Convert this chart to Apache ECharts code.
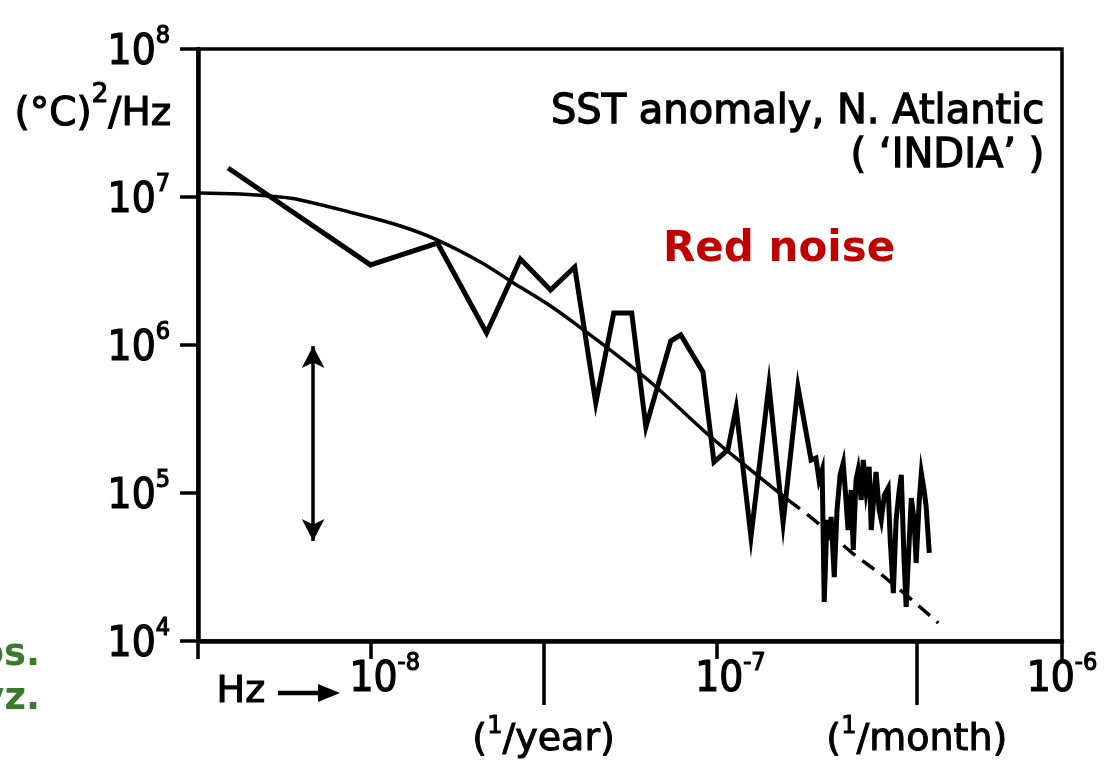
<!DOCTYPE html>
<html>
<head>
<meta charset="utf-8">
<script src="https://cdn.jsdelivr.net/npm/echarts@6/dist/echarts.min.js"></script>
<style>
  html, body { margin: 0; padding: 0; background: #fff; }
  #chart { width: 1108px; height: 764px; }
</style>
</head>
<body>
<div id="chart"></div>
<script>
// Frequencies are log10(Hz); spectral densities are log10((°C)^2/Hz).

// Observed SST anomaly spectrum, N. Atlantic ('INDIA')
const spectrumLogF = [-8.413, -8.001, -7.807, -7.665, -7.567, -7.480, -7.410, -7.349, -7.297, -7.245,
  -7.204, -7.132, -7.103, -7.039, -7.007, -6.967, -6.943, -6.900, -6.848, -6.807,
  -6.764, -6.726, -6.712, -6.703, -6.694, -6.688, -6.680, -6.674, -6.668, -6.659,
  -6.651, -6.642, -6.633, -6.625, -6.619, -6.610, -6.604, -6.596, -6.590, -6.581,
  -6.575, -6.567, -6.558, -6.552, -6.543, -6.538, -6.529, -6.523, -6.514, -6.503,
  -6.497, -6.488, -6.480, -6.471, -6.465, -6.457, -6.451, -6.442, -6.436, -6.428,
  -6.422, -6.413, -6.407, -6.399, -6.393, -6.384];
const spectrumLogP = [7.196, 6.541, 6.689, 6.081, 6.581, 6.372, 6.527, 5.608, 6.216, 6.216,
  5.446, 6.027, 6.068, 5.818, 5.209, 5.291, 5.574, 4.703, 5.730, 4.797,
  5.716, 5.223, 5.236, 5.088, 5.155, 4.264, 4.818, 4.682, 4.838, 4.432,
  4.885, 5.122, 5.203, 4.953, 4.750, 5.020, 4.615, 5.088, 5.155, 4.953,
  5.223, 5.020, 5.176, 4.750, 5.020, 5.142, 4.885, 4.818, 4.986, 5.034,
  4.682, 4.324, 4.818, 5.020, 5.122, 4.547, 4.230, 4.682, 4.966, 4.818,
  4.527, 4.953, 5.135, 5.020, 4.905, 4.595];

// Fitted red-noise spectrum (solid part)
const redNoiseLogF = [-8.500, -8.378, -8.262, -8.204, -8.051, -7.914, -7.807, -7.683,
  -7.587, -7.480, -7.384, -7.277, -7.181, -7.016, -6.900, -6.793];
const redNoiseLogP = [7.027, 7.020, 7.000, 6.980, 6.892, 6.804, 6.709, 6.561,
  6.419, 6.264, 6.101, 5.912, 5.730, 5.378, 5.155, 4.953];

// Red-noise spectrum continued (dashed part)
const redNoiseExtLogF = [-6.793, -6.706, -6.610, -6.503, -6.358];
const redNoiseExtLogP = [4.953, 4.797, 4.601, 4.412, 4.122];

// Confidence interval bar
const ciLogF = -8.167;
const ciLogP = [4.676, 5.993];

// Axis ticks
const xEdgeTicks = [-8.5, -8, -7, -6];
const xDecadeLabels = [-8, -7, -6];
const periodTicks = [-7.5, -6.42];
const periodNames = ['year', 'month'];
const yDecades = [4, 5, 6, 7, 8];

const zip = (a, b) => a.map((v, i) => [v, b[i]]);

const NUM_FONT = '"Liberation Sans Narrow", "DejaVu Sans Condensed", "Liberation Sans", sans-serif';
const TXT_FONT = '"DejaVu Sans", "Liberation Sans", sans-serif';

const numStyle = { fontFamily: NUM_FONT, color: '#000', textBorderColor: '#000', textBorderWidth: 1.2 };
const powerRich = {
  b: Object.assign({ fontSize: 42, lineHeight: 50, verticalAlign: 'bottom' }, numStyle),
  bp: Object.assign({ fontSize: 42, lineHeight: 50, verticalAlign: 'bottom', padding: [0, 0, 0, 28] }, numStyle),
  s: Object.assign({ fontSize: 25, lineHeight: 25, verticalAlign: 'top' }, numStyle)
};
const yPowerLabel = v => '{b|10}{s|' + String(Math.round(v)) + '}';
// the last decade label sits flush with the frame; the others are nudged right of their tick
const xPowerLabel = v => (Math.round(v) === -6 ? '{b|10}' : '{bp|10}') + '{s|' + String(Math.round(v)) + '}';

const chart = echarts.init(document.getElementById('chart'), null, { renderer: 'canvas' });

chart.setOption({
  backgroundColor: '#fff',
  animation: false,
  grid: {
    left: 198, right: 46, top: 49, bottom: 123,
    show: true, borderColor: '#000', borderWidth: 3.5, backgroundColor: 'transparent'
  },
  xAxis: [
    {
      type: 'value', min: -8.5, max: -6, position: 'bottom',
      axisLine: { show: true, lineStyle: { color: '#000', width: 4.5 } },
      axisTick: { show: true, customValues: xEdgeTicks, length: 18, lineStyle: { color: '#000', width: 3.5 } },
      axisLabel: {
        show: true, customValues: xDecadeLabels, margin: 10,
        formatter: xPowerLabel, rich: powerRich
      },
      splitLine: { show: false }
    },
    {
      type: 'value', min: -8.5, max: -6, position: 'bottom',
      axisLine: { show: false },
      axisTick: { show: true, customValues: periodTicks, length: 64, lineStyle: { color: '#000', width: 3.5 } },
      axisLabel: {
        show: true, customValues: periodTicks, margin: 74,
        formatter: v => {
          let idx = 0;
          periodTicks.forEach((t, i) => { if (Math.abs(t - v) < Math.abs(periodTicks[idx] - v)) idx = i; });
          return '{p|(}{s|1}{p|/' + periodNames[idx] + ')}';
        },
        rich: {
          p: { fontFamily: TXT_FONT, fontSize: 38, lineHeight: 44, color: '#000', verticalAlign: 'bottom', textBorderColor: '#000', textBorderWidth: 1 },
          s: { fontFamily: TXT_FONT, fontSize: 24, lineHeight: 24, color: '#000', verticalAlign: 'top', textBorderColor: '#000', textBorderWidth: 1 }
        }
      },
      splitLine: { show: false }
    }
  ],
  yAxis: {
    type: 'value', min: 4, max: 8, interval: 1,
    axisLine: { show: true, lineStyle: { color: '#000', width: 4.5 } },
    axisTick: { show: true, length: 18, lineStyle: { color: '#000', width: 3.5 } },
    axisLabel: { show: true, margin: 28, formatter: yPowerLabel, rich: powerRich },
    splitLine: { show: false }
  },
  series: [
    {
      name: 'spectrum', type: 'line', xAxisIndex: 0,
      data: zip(spectrumLogF, spectrumLogP),
      symbol: 'none', smooth: false,
      lineStyle: { color: '#000', width: 5, join: 'miter' },
      z: 3
    },
    {
      name: 'red noise', type: 'line', xAxisIndex: 0,
      data: zip(redNoiseLogF, redNoiseLogP),
      symbol: 'none', smooth: 0.4,
      lineStyle: { color: '#000', width: 3.5 },
      z: 2
    },
    {
      name: 'red noise (extended)', type: 'line', xAxisIndex: 0,
      data: zip(redNoiseExtLogF, redNoiseExtLogP),
      symbol: 'none', smooth: 0.4,
      lineStyle: { color: '#000', width: 3.5, type: [15, 9] },
      z: 2
    },
    {
      name: 'confidence', type: 'line', xAxisIndex: 0, data: [],
      markLine: {
        silent: true, animation: false,
        symbol: ['arrow', 'arrow'], symbolSize: [17, 22],
        lineStyle: { color: '#000', width: 3.5, type: 'solid' },
        label: { show: false },
        data: [[{ coord: [ciLogF, ciLogP[0]] }, { coord: [ciLogF, ciLogP[1]] }]]
      }
    }
  ],
  graphic: [
    {
      type: 'text', left: 14, top: 82,
      style: {
        text: '{t|(°C)}{s|2}{t|/Hz}',
        rich: {
          t: { fontFamily: TXT_FONT, fontSize: 39, lineHeight: 52, fill: '#000', verticalAlign: 'bottom', stroke: '#000', lineWidth: 1.2 },
          s: { fontFamily: TXT_FONT, fontSize: 26, lineHeight: 26, fill: '#000', verticalAlign: 'top', stroke: '#000', lineWidth: 1.2 }
        }
      }
    },
    {
      type: 'text', right: 63, top: 92,
      style: { text: 'SST anomaly, N. Atlantic', font: '40px ' + TXT_FONT, fill: '#000', stroke: '#000', lineWidth: 1.3 }
    },
    {
      type: 'text', right: 63, top: 136,
      style: { text: '( \u2018INDIA\u2019 )', font: '40px ' + TXT_FONT, fill: '#000', stroke: '#000', lineWidth: 1.3 }
    },
    {
      type: 'text', left: 663, top: 229,
      style: { text: 'Red noise', font: 'bold 42px ' + TXT_FONT, fill: '#C00000' }
    },
    {
      type: 'text', left: 216, top: 673,
      style: { text: 'Hz', font: '38px ' + TXT_FONT, fill: '#000', stroke: '#000', lineWidth: 1.2 }
    },
    {
      type: 'group',
      children: [
        { type: 'line', shape: { x1: 278, y1: 693, x2: 324, y2: 693 }, style: { stroke: '#000', lineWidth: 4.5 } },
        { type: 'polygon', shape: { points: [[318, 684], [340, 693], [318, 702]] }, style: { fill: '#000' } }
      ]
    },
    {
      type: 'text', right: 1068, top: 637,
      style: { text: 'os.', font: 'bold 37px ' + TXT_FONT, fill: '#3a7a2e' }
    },
    {
      type: 'text', right: 1068, top: 681,
      style: { text: 'yz.', font: 'bold 37px ' + TXT_FONT, fill: '#3a7a2e' }
    }
  ]
});
</script>
</body>
</html>
